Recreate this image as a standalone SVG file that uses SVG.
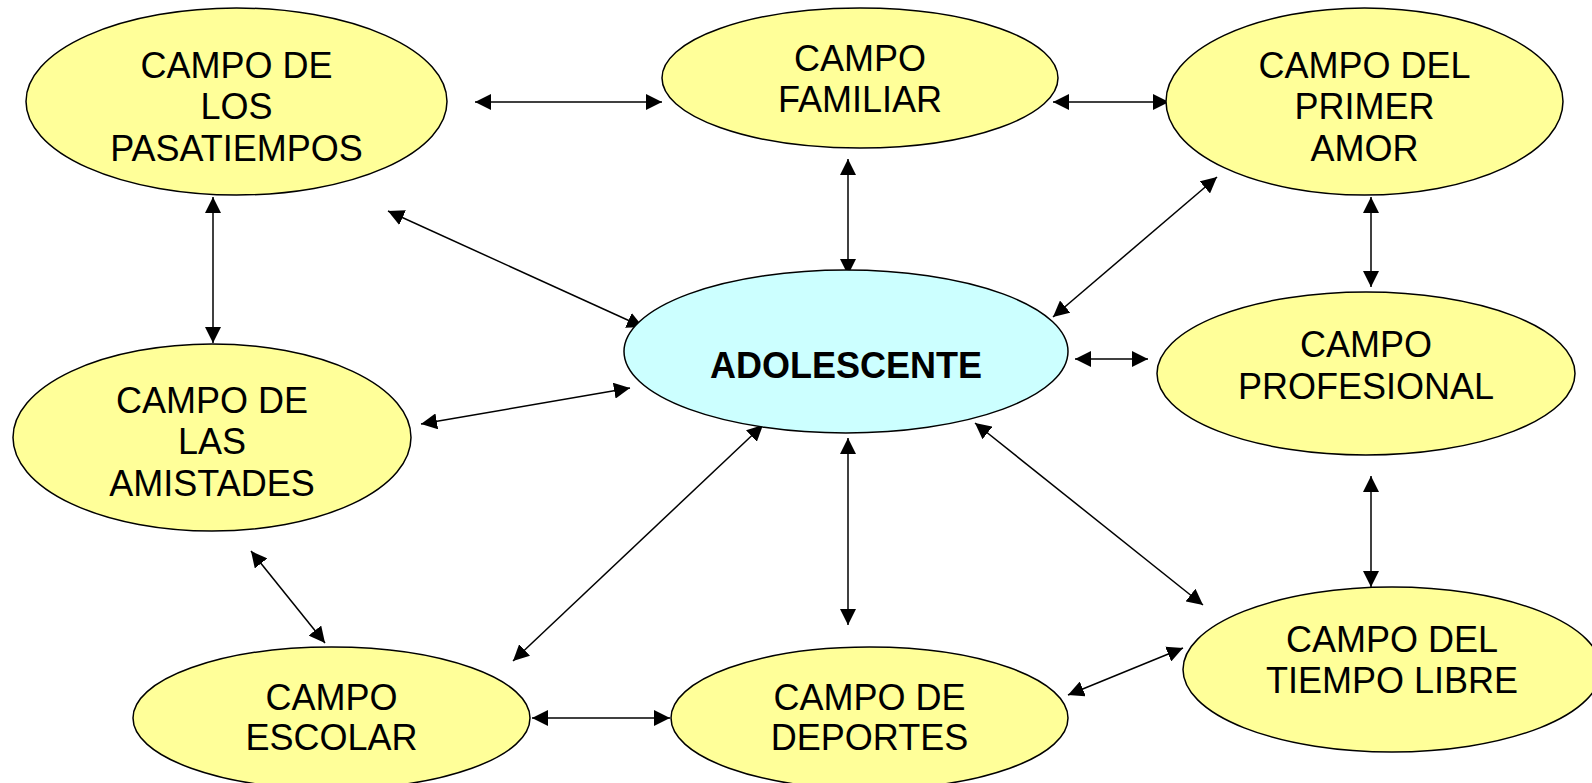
<svg xmlns="http://www.w3.org/2000/svg" width="1592" height="783" viewBox="0 0 1592 783">
<style>
.n{fill:#FFFF99;stroke:#000;stroke-width:1.5}
.c{fill:#CCFFFF;stroke:#000;stroke-width:1.5}
.t{font-family:"Liberation Sans",Arial,sans-serif;font-size:36px;fill:#000;text-anchor:middle}
.b{font-weight:bold}
.e line{stroke:#000;stroke-width:1.5;marker-start:url(#ah);marker-end:url(#ah)}
</style>
<defs>
<marker id="ah" markerUnits="userSpaceOnUse" markerWidth="16" markerHeight="16" viewBox="0 0 14 14" refX="14" refY="7" orient="auto-start-reverse">
<path d="M0,0 L14,7 L0,14 Z" fill="#000"/>
</marker>
</defs>
<rect width="1592" height="783" fill="#fff"/>
<g id="connectors" class="e">
<line x1="475" y1="102" x2="662" y2="102"/>
<line x1="1053" y1="102" x2="1169" y2="102"/>
<line x1="213" y1="197" x2="213" y2="343"/>
<line x1="848" y1="159" x2="848" y2="275"/>
<line x1="1371" y1="197" x2="1371" y2="287"/>
<line x1="388" y1="211" x2="643" y2="327"/>
<line x1="1217" y1="177" x2="1053" y2="317"/>
<line x1="421" y1="424" x2="630" y2="388"/>
<line x1="1075" y1="359" x2="1148" y2="359"/>
<line x1="251" y1="551" x2="325" y2="643"/>
<line x1="763" y1="425" x2="513" y2="661"/>
<line x1="848" y1="438" x2="848" y2="625"/>
<line x1="975" y1="423" x2="1203" y2="605"/>
<line x1="1371" y1="476" x2="1371" y2="587"/>
<line x1="532" y1="718" x2="670" y2="718"/>
<line x1="1068" y1="695" x2="1183" y2="648"/>
</g>
<g id="pasatiempos">
<ellipse class="n" cx="236.5" cy="101.5" rx="210.5" ry="93.5"/>
<text class="t" x="236.5" y="78">CAMPO DE</text>
<text class="t" x="236.5" y="119">LOS</text>
<text class="t" x="236.5" y="161">PASATIEMPOS</text>
</g>
<g id="familiar">
<ellipse class="n" cx="860" cy="78" rx="198" ry="70"/>
<text class="t" x="860" y="71">CAMPO</text>
<text class="t" x="860" y="112">FAMILIAR</text>
</g>
<g id="primer-amor">
<ellipse class="n" cx="1364.5" cy="101.5" rx="198.5" ry="93.5"/>
<text class="t" x="1364.5" y="78">CAMPO DEL</text>
<text class="t" x="1364.5" y="119">PRIMER</text>
<text class="t" x="1364.5" y="161">AMOR</text>
</g>
<g id="amistades">
<ellipse class="n" cx="212" cy="437.5" rx="199" ry="93.5"/>
<text class="t" x="212" y="413">CAMPO DE</text>
<text class="t" x="212" y="454">LAS</text>
<text class="t" x="212" y="496">AMISTADES</text>
</g>
<g id="adolescente">
<ellipse class="c" cx="846" cy="351.5" rx="222" ry="81.5"/>
<text class="t b" x="846" y="378">ADOLESCENTE</text>
</g>
<g id="profesional">
<ellipse class="n" cx="1366" cy="373.5" rx="209" ry="81.5"/>
<text class="t" x="1366" y="357">CAMPO</text>
<text class="t" x="1366" y="399">PROFESIONAL</text>
</g>
<g id="escolar">
<ellipse class="n" cx="331.5" cy="718" rx="198.5" ry="71"/>
<text class="t" x="331.5" y="710">CAMPO</text>
<text class="t" x="331.5" y="750">ESCOLAR</text>
</g>
<g id="deportes">
<ellipse class="n" cx="869.5" cy="718" rx="198.5" ry="71"/>
<text class="t" x="869.5" y="710">CAMPO DE</text>
<text class="t" x="869.5" y="750">DEPORTES</text>
</g>
<g id="tiempo-libre">
<ellipse class="n" cx="1392" cy="669.5" rx="209" ry="82.5"/>
<text class="t" x="1392" y="652">CAMPO DEL</text>
<text class="t" x="1392" y="693">TIEMPO LIBRE</text>
</g>
</svg>
